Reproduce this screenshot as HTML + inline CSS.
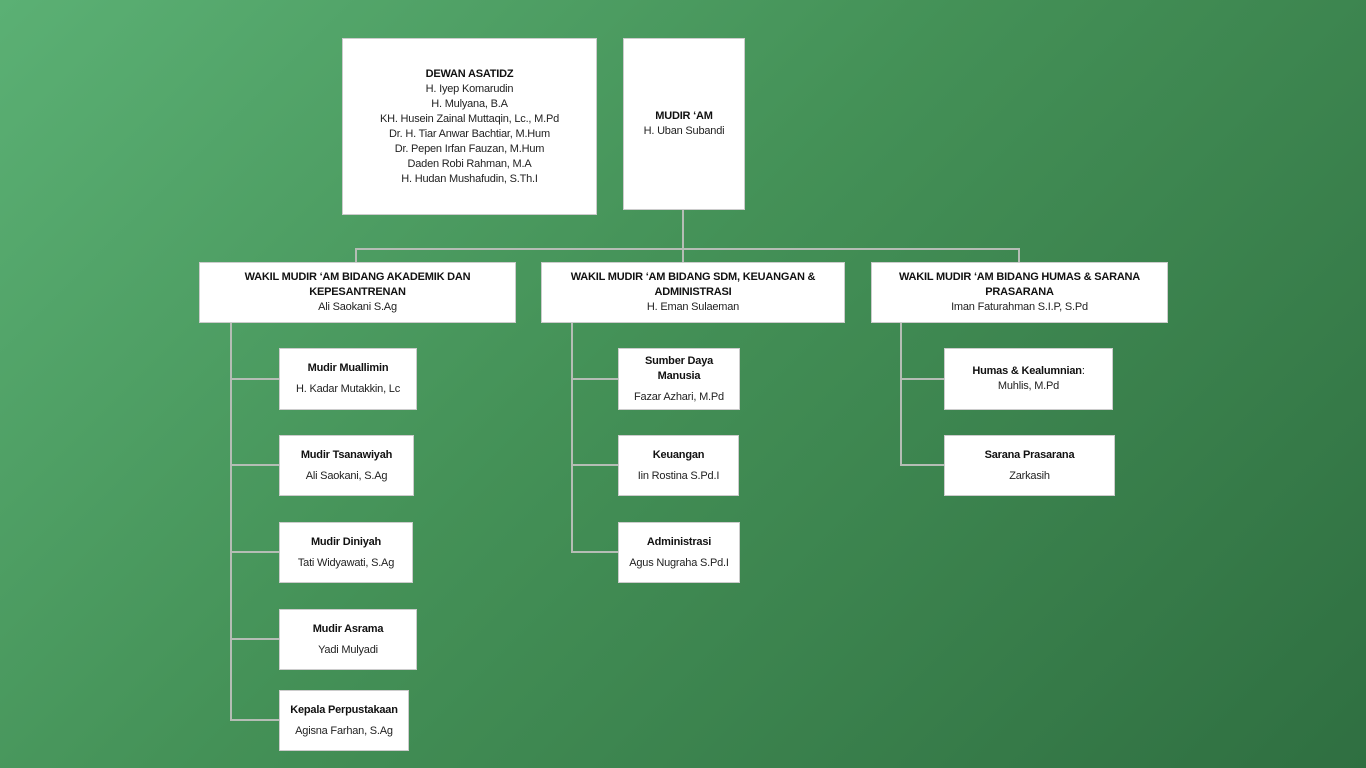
<!DOCTYPE html>
<html><head><meta charset="utf-8"><style>
body{margin:0;width:1366px;height:768px;overflow:hidden;background:linear-gradient(135deg,#5bb074 0%,#449157 45%,#2f6f41 100%);font-family:"Liberation Sans",sans-serif;position:relative}
.b{position:absolute;background:#fff;box-sizing:border-box;display:flex;flex-direction:column;justify-content:center;align-items:center;text-align:center;font-size:11px;line-height:15px;color:#222;border:1px solid #ccc;letter-spacing:-0.2px}
.b b{color:#111}
.s b{margin-bottom:6px}
.l{position:absolute;background:#b5bdb5}
</style></head><body>
<div class="l" style="left:682px;top:209px;width:2px;height:53px"></div>
<div class="l" style="left:355px;top:248px;width:665px;height:2px"></div>
<div class="l" style="left:355px;top:248px;width:2px;height:14px"></div>
<div class="l" style="left:1018px;top:248px;width:2px;height:14px"></div>
<div class="l" style="left:230px;top:322px;width:2px;height:399px"></div>
<div class="l" style="left:230px;top:378px;width:49px;height:2px"></div>
<div class="l" style="left:230px;top:464px;width:49px;height:2px"></div>
<div class="l" style="left:230px;top:551px;width:49px;height:2px"></div>
<div class="l" style="left:230px;top:638px;width:49px;height:2px"></div>
<div class="l" style="left:230px;top:719px;width:49px;height:2px"></div>
<div class="l" style="left:571px;top:322px;width:2px;height:231px"></div>
<div class="l" style="left:571px;top:378px;width:47px;height:2px"></div>
<div class="l" style="left:571px;top:464px;width:47px;height:2px"></div>
<div class="l" style="left:571px;top:551px;width:47px;height:2px"></div>
<div class="l" style="left:900px;top:322px;width:2px;height:144px"></div>
<div class="l" style="left:900px;top:378px;width:44px;height:2px"></div>
<div class="l" style="left:900px;top:464px;width:44px;height:2px"></div>

<div class="b" style="left:342px;top:38px;width:255px;height:177px"><b>DEWAN ASATIDZ</b>H. Iyep Komarudin<br>H. Mulyana, B.A<br>KH. Husein Zainal Muttaqin, Lc., M.Pd<br>Dr. H. Tiar Anwar Bachtiar, M.Hum<br>Dr. Pepen Irfan Fauzan, M.Hum<br>Daden Robi Rahman, M.A<br>H. Hudan Mushafudin, S.Th.I</div>
<div class="b" style="left:623px;top:38px;width:122px;height:172px"><b>MUDIR ‘AM</b>H. Uban Subandi</div>

<div class="b" style="left:199px;top:262px;width:317px;height:61px"><b>WAKIL MUDIR ‘AM BIDANG AKADEMIK DAN<br>KEPESANTRENAN</b>Ali Saokani S.Ag</div>
<div class="b" style="left:541px;top:262px;width:304px;height:61px"><b>WAKIL MUDIR ‘AM BIDANG SDM, KEUANGAN &amp;<br>ADMINISTRASI</b>H. Eman Sulaeman</div>
<div class="b" style="left:871px;top:262px;width:297px;height:61px"><b>WAKIL MUDIR ‘AM BIDANG HUMAS &amp; SARANA<br>PRASARANA</b>Iman Faturahman S.I.P, S.Pd</div>

<div class="b s" style="left:279px;top:348px;width:138px;height:62px"><b>Mudir Muallimin</b>H. Kadar Mutakkin, Lc</div>
<div class="b s" style="left:279px;top:435px;width:135px;height:61px"><b>Mudir Tsanawiyah</b>Ali Saokani, S.Ag</div>
<div class="b s" style="left:279px;top:522px;width:134px;height:61px"><b>Mudir Diniyah</b>Tati Widyawati, S.Ag</div>
<div class="b s" style="left:279px;top:609px;width:138px;height:61px"><b>Mudir Asrama</b>Yadi Mulyadi</div>
<div class="b s" style="left:279px;top:690px;width:130px;height:61px"><b>Kepala Perpustakaan</b>Agisna Farhan, S.Ag</div>

<div class="b s" style="left:618px;top:348px;width:122px;height:62px"><b>Sumber Daya<br>Manusia</b>Fazar Azhari, M.Pd</div>
<div class="b s" style="left:618px;top:435px;width:121px;height:61px"><b>Keuangan</b>Iin Rostina S.Pd.I</div>
<div class="b s" style="left:618px;top:522px;width:122px;height:61px"><b>Administrasi</b>Agus Nugraha S.Pd.I</div>

<div class="b" style="left:944px;top:348px;width:169px;height:62px"><span><b>Humas &amp; Kealumnian</b>:</span>Muhlis, M.Pd</div>
<div class="b s" style="left:944px;top:435px;width:171px;height:61px"><b>Sarana Prasarana</b>Zarkasih</div>
</body></html>
